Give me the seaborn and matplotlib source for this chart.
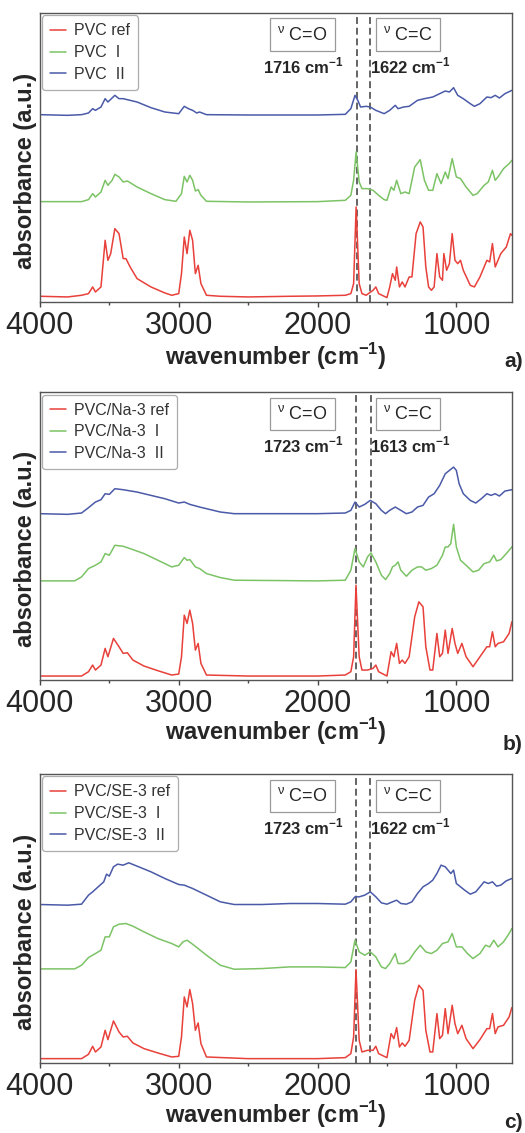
import matplotlib
matplotlib.use('Agg')
import matplotlib.pyplot as plt
import seaborn as sns
import pandas as pd
from matplotlib.ticker import MultipleLocator

sns.set_style('white')
plt.rcParams['font.family'] = ['Liberation Sans', 'DejaVu Sans']
plt.rcParams['mathtext.fontset'] = 'custom'
plt.rcParams['mathtext.rm'] = 'Liberation Sans'
plt.rcParams['mathtext.bf'] = 'Liberation Sans:bold'

# ---- panel a) PVC ----
wn_a_ref = [4000, 3800, 3700, 3650, 3620, 3600, 3560, 3530, 3510, 3490, 3460, 3430, 3400, 3380, 3350, 3300,
            3200, 3100, 3050, 3000, 2980, 2960, 2940, 2920, 2900, 2880, 2860, 2840, 2800, 2700, 2500, 2200,
            2000, 1800, 1760, 1740, 1722, 1700, 1680, 1650, 1600, 1580, 1560, 1520, 1500, 1480, 1460, 1440,
            1430, 1410, 1390, 1370, 1340, 1320, 1290, 1260, 1240, 1220, 1200, 1180, 1160, 1140, 1120, 1100,
            1090, 1070, 1050, 1030, 1010, 990, 970, 950, 900, 870, 830, 800, 780, 760, 740, 720, 700, 680,
            640, 610, 600]
ab_a_ref = [17, 15, 20, 25, 45, 30, 45, 185, 125, 145, 220, 205, 130, 130, 105, 70,
            45, 27, 20, 25, 85, 195, 145, 215, 185, 85, 110, 55, 20, 17, 15, 17,
            18, 20, 25, 55, 285, 55, 25, 20, 35, 45, 25, 17, 13, 45, 85, 65,
            105, 45, 60, 45, 75, 75, 205, 240, 225, 105, 45, 35, 45, 145, 75, 65,
            145, 95, 115, 205, 125, 115, 125, 95, 50, 45, 75, 105, 125, 120, 175, 105, 125, 145,
            165, 205, 200]
wn_a_1 = [4000, 3700, 3650, 3620, 3600, 3560, 3530, 3510, 3480, 3460, 3430, 3400, 3370, 3300, 3200, 3100,
          3020, 2980, 2960, 2940, 2920, 2900, 2880, 2860, 2840, 2800, 2500, 2000, 1800, 1760, 1740, 1722,
          1700, 1680, 1640, 1600, 1560, 1520, 1500, 1470, 1450, 1430, 1400, 1370, 1340, 1300, 1260, 1230,
          1200, 1170, 1140, 1110, 1080, 1060, 1030, 1000, 970, 930, 880, 850, 800, 770, 740, 720, 700,
          660, 620, 600]
ab_a_1 = [301, 301, 307, 325, 315, 330, 365, 350, 365, 383, 375, 360, 363, 345, 325, 307,
          302, 325, 377, 360, 380, 365, 333, 337, 320, 302, 300, 301, 305, 320, 365, 450,
          360, 340, 340, 335, 320, 307, 305, 345, 335, 365, 325, 330, 325, 405, 427, 365,
          335, 335, 385, 355, 390, 370, 430, 375, 370, 345, 320, 325, 350, 360, 395, 365, 375,
          400, 415, 425]
wn_a_2 = [4000, 3800, 3700, 3650, 3620, 3600, 3560, 3530, 3510, 3460, 3430, 3400, 3300, 3200, 3100, 3000,
          2960, 2930, 2900, 2870, 2850, 2800, 2500, 2000, 1800, 1760, 1730, 1710, 1690, 1650, 1620, 1580,
          1550, 1520, 1480, 1440, 1420, 1380, 1340, 1280, 1230, 1170, 1130, 1080, 1050, 1020, 990, 950,
          900, 870, 830, 780, 750, 720, 690, 650, 600]
ab_a_2 = [562, 560, 562, 567, 580, 575, 585, 610, 600, 620, 610, 610, 600, 583, 570, 565,
          587, 580, 575, 567, 570, 562, 561, 561, 563, 580, 620, 605, 585, 587, 585, 575,
          570, 565, 575, 590, 580, 585, 587, 605, 610, 615, 623, 633, 630, 643, 620, 610,
          595, 587, 595, 615, 613, 620, 612, 625, 635]

# ---- panel b) PVC/Na-3 ----
wn_b_ref = [4000, 3700, 3650, 3620, 3600, 3560, 3530, 3510, 3470, 3430, 3400, 3370, 3330, 3250, 3150, 3050,
            3000, 2980, 2960, 2940, 2920, 2900, 2880, 2860, 2840, 2800, 2500, 2000, 1800, 1760, 1740, 1723,
            1700, 1680, 1640, 1600, 1580, 1560, 1500, 1470, 1450, 1430, 1410, 1390, 1370, 1340, 1300, 1270,
            1240, 1220, 1190, 1170, 1140, 1120, 1100, 1080, 1060, 1030, 1010, 990, 960, 930, 880, 830,
            780, 760, 740, 720, 700, 660, 620, 600]
ab_b_ref = [12, 12, 25, 45, 30, 45, 95, 70, 125, 100, 80, 82, 60, 42, 28, 15,
            18, 70, 195, 170, 210, 170, 90, 110, 50, 15, 12, 12, 15, 25, 70, 285,
            70, 30, 30, 35, 45, 25, 12, 85, 70, 110, 50, 60, 50, 70, 190, 235,
            220, 100, 30, 30, 140, 70, 80, 150, 80, 155, 110, 80, 110, 70, 40, 70,
            100, 100, 145, 100, 110, 115, 140, 175]
wn_b_1 = [4000, 3750, 3700, 3650, 3600, 3560, 3530, 3500, 3460, 3400, 3350, 3250, 3150, 3050, 3000, 2960,
          2940, 2920, 2880, 2850, 2800, 2700, 2600, 2000, 1800, 1760, 1730, 1700, 1670, 1640, 1615, 1580,
          1540, 1510, 1480, 1460, 1440, 1420, 1400, 1360, 1320, 1280, 1250, 1220, 1180, 1140, 1100, 1080,
          1060, 1040, 1020, 1000, 970, 930, 880, 840, 800, 760, 730, 710, 680, 640, 600]
ab_b_1 = [298, 298, 310, 335, 345, 355, 380, 375, 405, 402, 395, 380, 360, 340, 345, 368,
          360, 362, 340, 335, 320, 308, 300, 298, 300, 330, 395, 355, 340, 370, 382, 355,
          315, 302, 320, 340, 345, 355, 330, 312, 330, 340, 340, 330, 335, 345, 375, 400,
          400, 410, 468, 400, 360, 345, 325, 330, 350, 355, 375, 358, 362, 380, 400]
wn_b_2 = [4000, 3800, 3700, 3650, 3600, 3560, 3530, 3500, 3460, 3400, 3300, 3200, 3100, 3000, 2960, 2920,
          2850, 2700, 2600, 2000, 1800, 1760, 1730, 1700, 1660, 1620, 1580, 1540, 1510, 1480, 1440, 1400,
          1360, 1320, 1280, 1240, 1200, 1160, 1120, 1080, 1050, 1020, 1000, 980, 950, 900, 860, 820,
          780, 750, 720, 690, 650, 600]
ab_b_2 = [500, 498, 502, 518, 535, 542, 560, 558, 575, 572, 565, 555, 545, 532, 535, 528,
          520, 505, 500, 500, 502, 510, 535, 520, 528, 540, 530, 510, 500, 510, 520, 510,
          500, 505, 520, 525, 550, 560, 585, 620, 630, 640, 630, 590, 560, 540, 532, 545,
          560, 555, 560, 553, 568, 572]

# ---- panel c) PVC/SE-3 ----
wn_c_ref = [4000, 3700, 3650, 3620, 3600, 3560, 3530, 3510, 3470, 3430, 3400, 3370, 3330, 3250, 3150, 3050,
            3000, 2980, 2960, 2940, 2920, 2900, 2880, 2860, 2840, 2800, 2500, 2000, 1800, 1760, 1740, 1723,
            1700, 1680, 1640, 1600, 1580, 1560, 1500, 1470, 1450, 1430, 1410, 1390, 1370, 1340, 1300, 1270,
            1240, 1220, 1190, 1170, 1140, 1120, 1100, 1080, 1060, 1030, 1010, 990, 960, 930, 880, 830,
            780, 760, 740, 720, 700, 660, 620, 600]
ab_c_ref = [13, 13, 26, 50, 33, 48, 98, 70, 126, 93, 78, 80, 60, 43, 30, 18,
            20, 78, 198, 168, 220, 178, 98, 120, 58, 18, 13, 13, 16, 28, 78, 280,
            68, 33, 38, 38, 50, 28, 16, 88, 73, 106, 48, 60, 50, 68, 188, 233,
            218, 98, 33, 33, 148, 73, 83, 163, 88, 173, 118, 88, 113, 73, 43, 70,
            103, 103, 148, 88, 108, 113, 138, 166]
wn_c_1 = [4000, 3750, 3700, 3650, 3600, 3560, 3530, 3500, 3470, 3430, 3380, 3330, 3250, 3150, 3050, 3000,
          2970, 2940, 2900, 2860, 2800, 2700, 2600, 2400, 2200, 2000, 1800, 1760, 1730, 1700, 1660, 1620,
          1580, 1540, 1510, 1480, 1440, 1420, 1380, 1340, 1300, 1260, 1220, 1180, 1140, 1100, 1060, 1030,
          1000, 960, 920, 880, 830, 790, 760, 730, 700, 660, 620, 600]
ab_c_1 = [282, 282, 293, 316, 328, 338, 378, 378, 408, 416, 418, 410, 393, 373, 358, 348,
          363, 368, 356, 343, 323, 293, 281, 283, 288, 288, 286, 303, 368, 333, 323, 333,
          318, 288, 283, 298, 328, 298, 298, 308, 333, 353, 333, 328, 338, 358, 363, 388,
          348, 348, 328, 313, 328, 353, 348, 368, 348, 363, 388, 403]
wn_c_2 = [4000, 3800, 3700, 3650, 3620, 3580, 3540, 3520, 3500, 3470, 3440, 3400, 3360, 3300, 3200, 3100,
          3000, 2960, 2900, 2800, 2700, 2600, 2400, 2200, 2000, 1800, 1760, 1730, 1700, 1660, 1620, 1580,
          1540, 1500, 1460, 1430, 1400, 1360, 1320, 1280, 1240, 1200, 1170, 1140, 1110, 1080, 1060, 1040,
          1020, 1000, 970, 940, 900, 860, 830, 800, 770, 740, 710, 680, 640, 600]
ab_c_2 = [475, 473, 476, 503, 513, 528, 543, 566, 560, 588, 596, 593, 600, 590, 573, 553,
          535, 533, 523, 503, 483, 475, 475, 478, 478, 476, 483, 498, 498, 503, 513, 498,
          480, 476, 483, 488, 478, 476, 483, 508, 528, 538, 548, 568, 593, 588, 578, 568,
          578, 538, 528, 518, 506, 513, 528, 543, 538, 543, 530, 533, 546, 553]

panels = [
    dict(series=[(wn_a_ref, ab_a_ref, 'PVC ref'), (wn_a_1, ab_a_1, 'PVC  I'), (wn_a_2, ab_a_2, 'PVC  II')],
         peaks=(1716, 1622), ytop=867, letter='a)', xpad=0, ly=-0.205),
    dict(series=[(wn_b_ref, ab_b_ref, 'PVC/Na-3 ref'), (wn_b_1, ab_b_1, 'PVC/Na-3  I'), (wn_b_2, ab_b_2, 'PVC/Na-3  II')],
         peaks=(1723, 1613), ytop=865, letter='b)', xpad=-2, ly=-0.225),
    dict(series=[(wn_c_ref, ab_c_ref, 'PVC/SE-3 ref'), (wn_c_1, ab_c_1, 'PVC/SE-3  I'), (wn_c_2, ab_c_2, 'PVC/SE-3  II')],
         peaks=(1723, 1622), ytop=866, letter='c)', xpad=-2, ly=-0.205),
]

colors = ['#e8403a', '#7cc366', '#4a5aa8']
rects = [[0.076, 0.7335, 0.899, 0.255], [0.076, 0.3998, 0.899, 0.254], [0.076, 0.0618, 0.899, 0.255]]

fig = plt.figure(figsize=(5.25, 11.33), dpi=100)

for p, rect in zip(panels, rects):
    ax = fig.add_axes(rect)
    for (wn, ab, lab), c in zip(p['series'], colors):
        df = pd.DataFrame({'wavenumber': wn, 'absorbance': ab})
        sns.lineplot(data=df, x='wavenumber', y='absorbance', ax=ax, color=c, lw=1.1,
                     label=lab, sort=False, estimator=None)
    for pk in p['peaks']:
        ax.axvline(pk, color='#3a3a3a', lw=1.1, ls=(0, (4.5, 2.5)), zorder=0)
    ax.set_xlim(4000, 600)
    ax.set_ylim(0, p['ytop'])
    ax.set_yticks([])
    ax.xaxis.set_major_locator(MultipleLocator(1000))
    ax.xaxis.set_minor_locator(MultipleLocator(500))
    ax.tick_params(axis='x', which='major', direction='out', length=3.5, width=1, color='#444444',
                   labelsize=22, pad=3, bottom=True)
    ax.tick_params(axis='x', which='minor', direction='out', length=2, width=1, color='#444444', bottom=True)
    for s in ax.spines.values():
        s.set_color('#555555')
        s.set_linewidth(1.0)
    ax.set_xlabel('wavenumber (cm$^{\\mathbf{-1}}$)', fontsize=17, fontweight='bold', labelpad=p['xpad'])
    ax.set_ylabel('absorbance (a.u.)', fontsize=17, fontweight='bold')
    ax.yaxis.set_label_coords(-0.007, 0.455)
    leg = ax.legend(loc='upper left', fontsize=11.5, frameon=True, fancybox=True, handlelength=1.0,
                    handletextpad=0.5, labelspacing=0.42, borderpad=0.5, borderaxespad=0.15)
    leg.get_frame().set_edgecolor('#999999')
    leg.get_frame().set_linewidth(0.9)
    for t in leg.get_texts():
        t.set_color('#333333')
    box = dict(boxstyle='square,pad=0.4', fc='white', ec='#999999', lw=0.9)
    ax.text(2110, p['ytop'] * 0.925, '$^{\\mathregular{\u03bd}}$ C=O', fontsize=13, ha='center', va='center', bbox=box)
    ax.text(1350, p['ytop'] * 0.925, '$^{\\mathregular{\u03bd}}$ C=C', fontsize=13, ha='center', va='center', bbox=box)
    ax.text(2105, p['ytop'] * 0.815, f"{p['peaks'][0]} cm$^{{\\mathbf{{-1}}}}$", fontsize=12,
            fontweight='bold', ha='center', va='center')
    ax.text(1330, p['ytop'] * 0.815, f"{p['peaks'][1]} cm$^{{\\mathbf{{-1}}}}$", fontsize=12,
            fontweight='bold', ha='center', va='center')
    ax.text(1.0 + 11 / 472, p['ly'], p['letter'], transform=ax.transAxes, fontsize=15, fontweight='bold',
            ha='right', va='center')

fig.savefig('out.png', dpi=100)
